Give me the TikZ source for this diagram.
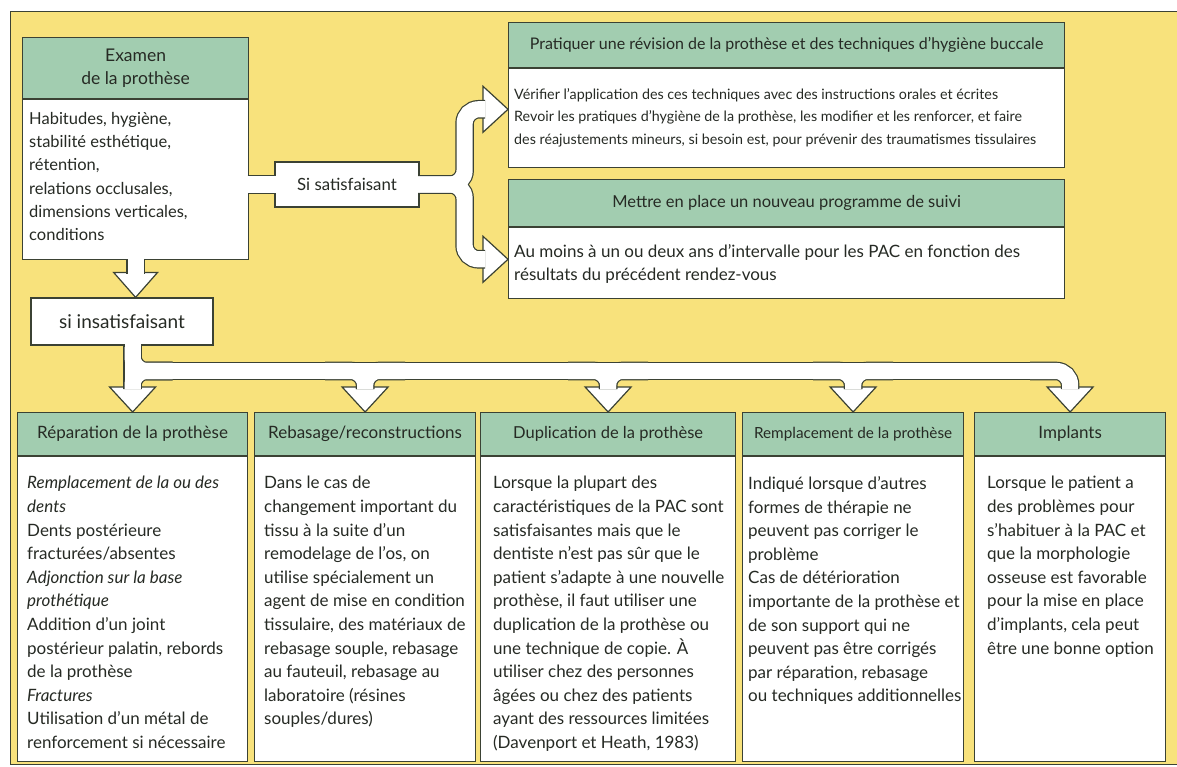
\documentclass[tikz,border=0pt]{standalone}
\usepackage{fontspec}
\setmainfont{Lato}
\usetikzlibrary{calc,positioning}
\definecolor{pageyellow}{HTML}{F8E27C}
\definecolor{headgreen}{HTML}{A2CDB0}
\definecolor{edgegray}{HTML}{3B4234}
\definecolor{inkgray}{HTML}{262A24}

\begin{document}
\begin{tikzpicture}[x=1pt, y=-1pt,
    every node/.style={text=inkgray},
    head/.style={draw=edgegray, fill=headgreen, line width=1.2pt, anchor=north west, inner sep=0pt, align=center, font=\fontsize{17}{23}\selectfont},
    body/.style={draw=edgegray, fill=white, line width=1.2pt, anchor=north west, inner sep=0pt},
    bodytxt/.style={anchor=north west, align=left, inner xsep=10pt, inner ysep=20pt, font=\fontsize{17}{23.6}\selectfont},
    choice/.style={draw=edgegray, fill=white, line width=1.2pt, inner sep=0pt},
    band/.style={rounded corners=14pt},
    tip/.style={draw=edgegray, fill=white, line width=1.2pt, line join=miter},
]
\useasboundingbox (0,0) rectangle (1177,767);
\fill[white] (0,0) rectangle (1177,767);
\draw[fill=pageyellow, draw=edgegray, line width=1pt] (10,12) rectangle (1200,764);

% examen
\node[head, minimum width=226pt, minimum height=61pt, font=\fontsize{17.5}{23}\selectfont] (examhd) at (22,37) {Examen\\de la prothèse};
\node[body, minimum width=226pt, minimum height=160pt] (exambd) at (examhd.south west) {};
\node[bodytxt, inner xsep=7pt, inner ysep=13pt, font=\fontsize{16.5}{23.2}\selectfont] (examtxt) at (exambd.north west) {Habitudes, hygiène,\\stabilité esthétique,\\rétention,\\relations occlusales,\\dimensions verticales,\\conditions};

% top right
\node[head, minimum width=556pt, minimum height=45pt, font=\fontsize{16}{18}\selectfont] (prathd) at (508,22) {Pratiquer une révision de la prothèse et des techniques d’hygiène buccale};
\node[body, minimum width=556pt, minimum height=99pt] (pratbd) at (prathd.south west) {};
\node[bodytxt, inner xsep=6pt, inner ysep=20pt, font=\fontsize{14.3}{22.5}\selectfont] (prattxt) at (pratbd.north west) {Vérifier l’application des ces techniques avec des instructions orales et écrites\\Revoir les pratiques d’hygiène de la prothèse, les modifier et les renforcer, et faire\\des réajustements mineurs, si besoin est, pour prévenir des traumatismes tissulaires};

\node[head, minimum width=556pt, minimum height=47pt, font=\fontsize{16.5}{18}\selectfont] (suivhd) at (508,179) {Mettre en place un nouveau programme de suivi};
\node[body, minimum width=556pt, minimum height=71pt] (suivbd) at (suivhd.south west) {};
\node[bodytxt, inner xsep=6pt, inner ysep=17pt, font=\fontsize{17}{23}\selectfont] (suivtxt) at (suivbd.north west) {Au moins à un ou deux ans d’intervalle pour les PAC en fonction des\\résultats du précédent rendez-vous};

% choices
\node[choice, minimum width=144pt, minimum height=45pt, font=\fontsize{16.8}{18}\selectfont] (sisat) at (347,184.5) {Si satisfaisant};
\node[choice, minimum width=182pt, minimum height=47pt, font=\fontsize{19}{20}\selectfont] (insat) at (122,321.5) {si insatisfaisant};

% bottom row
\node[head, minimum width=230pt, minimum height=43pt] (rephd) at (17,412) {Réparation de la prothèse};
\node[body, minimum width=230pt, minimum height=305pt] (repbd) at (rephd.south west) {};
\node[bodytxt] (reptxt) at (repbd.north west) {\textit{Remplacement de la ou des}\\\textit{dents}\\Dents postérieure\\fracturées/absentes\\\textit{Adjonction sur la base}\\\textit{prothétique}\\Addition d’un joint\\postérieur palatin, rebords\\de la prothèse\\\textit{Fractures}\\Utilisation d’un métal de\\renforcement si nécessaire};

\node[head, minimum width=221pt, minimum height=43pt] (rebhd) at (254,412) {Rebasage/reconstructions};
\node[body, minimum width=221pt, minimum height=305pt] (rebbd) at (rebhd.south west) {};
\node[bodytxt] (rebtxt) at (rebbd.north west) {Dans le cas de\\changement important du\\tissu à la suite d’un\\remodelage de l’os, on\\utilise spécialement un\\agent de mise en condition\\tissulaire, des matériaux de\\rebasage souple, rebasage\\au fauteuil, rebasage au\\laboratoire (résines\\souples/dures)};

\node[head, minimum width=255pt, minimum height=43pt, font=\fontsize{16.5}{23}\selectfont] (duphd) at (480,412) {Duplication de la prothèse};
\node[body, minimum width=255pt, minimum height=305pt] (dupbd) at (duphd.south west) {};
\node[bodytxt, inner xsep=13pt] (duptxt) at (dupbd.north west) {Lorsque la plupart des\\caractéristiques de la PAC sont\\satisfaisantes mais que le\\dentiste n’est pas sûr que le\\patient s’adapte à une nouvelle\\prothèse, il faut utiliser une\\duplication de la prothèse ou\\une technique de copie. À\\utiliser chez des personnes\\âgées ou chez des patients\\ayant des ressources limitées\\(Davenport et Heath, 1983)};

\node[head, minimum width=221pt, minimum height=43pt, font=\fontsize{15.3}{23}\selectfont] (remhd) at (742,412) {Remplacement de la prothèse};
\node[body, minimum width=221pt, minimum height=305pt] (rembd) at (remhd.south west) {};
\node[bodytxt, inner xsep=6pt] (remtxt) at (rembd.north west) {Indiqué lorsque d’autres\\formes de thérapie ne\\peuvent pas corriger le\\problème\\Cas de détérioration\\importante de la prothèse et\\de son support qui ne\\peuvent pas être corrigés\\par réparation, rebasage\\ou techniques additionnelles};

\node[head, minimum width=191pt, minimum height=43pt] (implhd) at (974,412) {Implants};
\node[body, minimum width=191pt, minimum height=305pt] (implbd) at (implhd.south west) {};
\node[bodytxt, inner xsep=13pt] (impltxt) at (implbd.north west) {Lorsque le patient a\\des problèmes pour\\s’habituer à la PAC et\\que la morphologie\\osseuse est favorable\\pour la mise en place\\d’implants, cela peut\\être une bonne option};

% connector points
\coordinate (split) at ($(sisat.east)+(45,0)$);
\coordinate (tip1) at ([yshift=9pt]pratbd.west);
\coordinate (tip2) at ([yshift=4pt]suivbd.west);
\coordinate (tip0) at (insat.north -| exambd.south);
\coordinate (hb) at (0,371);

% arrow heads
\foreach \n in {rephd, rebhd, duphd, remhd, implhd}
    \draw[tip] ($(\n.north)+(-23,-25)$) -- (\n.north) -- ($(\n.north)+(23,-25)$) -- cycle;
\draw[tip] ($(tip0)+(-22,-25)$) -- (tip0) -- ($(tip0)+(22,-25)$) -- cycle;
\foreach \t in {tip1, tip2}
    \draw[tip] ($(\t)+(-25,-23)$) -- (\t) -- ($(\t)+(-25,23)$) -- cycle;

% wide arrows: outline pass, then white pass
\foreach \w/\c in {18.6/edgegray, 16.2/white} {
    \draw[band, line width=\w pt, draw=\c] ($(exambd.east |- sisat.west)+(-1.5,0)$) -- ($(sisat.west)+(1.5,0)$);
    \draw[band, line width=\w pt, draw=\c] ($(sisat.east)+(-1.5,0)$) -- (split) -- (split |- tip1) -- ($(tip1)+(-23,0)$);
    \draw[band, line width=\w pt, draw=\c] ($(sisat.east)+(-1.5,0)$) -- (split) -- (split |- tip2) -- ($(tip2)+(-23,0)$);
    \draw[band, line width=\w pt, draw=\c] ($(exambd.south)+(0,-1.5)$) -- ($(tip0)+(0,-23)$);
    \draw[band, line width=\w pt, draw=\c] ($(rephd.north |- insat.south)+(0,-1.5)$) -- ($(rephd.north)+(0,-23)$);
    \draw[band, line width=\w pt, draw=\c] ($(rephd.north |- hb)+(0,-24)$) -- (rephd.north |- hb) -- ($(rephd.north |- hb)+(40,0)$);
    \draw[band, line width=\w pt, draw=\c] ($(rephd.north |- hb)+(40,0)$) -- (rephd.north |- hb) -- ($(rephd.north)+(0,-23)$);
    \draw[band, line width=\w pt, draw=\c] (rephd.north |- hb) -- ($(implhd.north |- hb)+(-40,0)$);
    \foreach \n/\s in {rebhd/-40, rebhd/40, duphd/-40, duphd/40, remhd/-40, remhd/40, implhd/-40}
        \draw[band, line width=\w pt, draw=\c] ($(\n.north |- hb)+(\s,0)$) -- (\n.north |- hb) -- ($(\n.north)+(0,-23)$);
}
\end{tikzpicture}
\end{document}
